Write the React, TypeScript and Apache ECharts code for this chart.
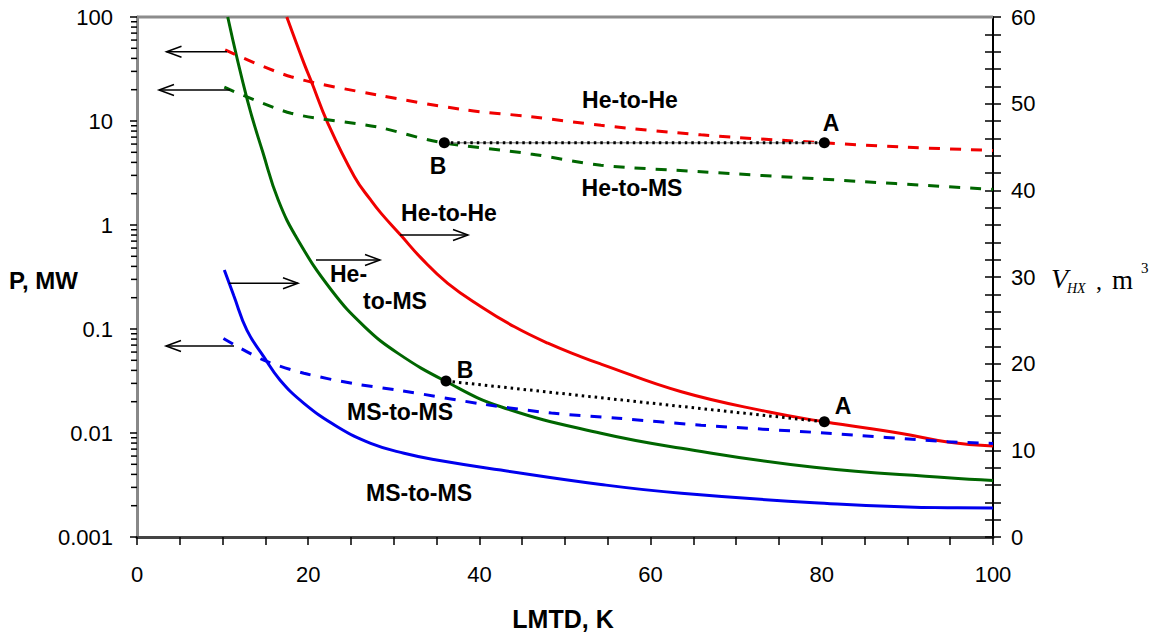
import React, { useEffect, useRef } from 'react';
import * as echarts from 'echarts';

// ---- Data ----
// Solid curves: power P (MW), left log axis
const lmtdHeHeP = [17.5, 19.5, 20.3, 22.3, 25.4, 27.3, 28.5, 30.8, 33.2, 36.3, 40.2, 44.1, 48, 51.9, 54.2, 63.6, 73.7, 80.3, 89.3, 94.7, 100];
const pHeHe = [100, 36, 24.8, 9.5, 2.91, 1.74, 1.3, 0.8, 0.48, 0.275, 0.164, 0.105, 0.073, 0.054, 0.046, 0.0249, 0.016, 0.0128, 0.0099, 0.0082, 0.0075];

const lmtdHeMSP = [10.6, 12.9, 14.7, 16.5, 18.8, 22.7, 26.6, 30.5, 36, 42.5, 54.2, 63.6, 79.1, 94.7, 100];
const pHeMS = [100, 15.8, 5.0, 1.74, 0.718, 0.237, 0.105, 0.0583, 0.0316, 0.0179, 0.00993, 0.00713, 0.00468, 0.00372, 0.0035];

const lmtdMSMSP = [10.2, 11.3, 12.85, 14.8, 16.7, 19.5, 23.4, 27.3, 31.2, 35, 42.5, 54.2, 63.6, 79.1, 94.7, 100];
const pMSMS = [0.369, 0.21, 0.097, 0.0542, 0.0324, 0.0193, 0.0115, 0.00796, 0.00638, 0.0055, 0.0044, 0.0032, 0.00263, 0.00214, 0.00191, 0.0019];

// Dashed curves: volume V_HX (m3), right axis
const lmtdHeHeV = [10.3, 18, 28.1, 38.2, 46, 54.2, 65.9, 79.9, 89.3, 100];
const vHeHe = [56.2, 53.1, 51.0, 49.3, 48.5, 47.5, 46.4, 45.5, 45.0, 44.6];

const lmtdHeMSV = [10.2, 18, 28.1, 35.1, 46, 54.2, 65.9, 79.9, 100];
const vHeMS = [51.9, 48.9, 47.3, 45.6, 44.2, 42.9, 42.15, 41.3, 40.1];

const lmtdMSMSV = [10.1, 14.8, 19.5, 25.3, 30.8, 40.6, 48.4, 56.2, 65.9, 80.3, 94.7, 100];
const vMSMS = [22.9, 20.4, 18.9, 17.7, 16.9, 15.3, 14.3, 13.7, 12.9, 12.0, 11.0, 10.8];

// Design points A and B
const pointsVLmtd = [35.9, 80.3];
const pointsV = [45.5, 45.5];
const pointsPLmtd = [36.1, 80.3];
const pointsP = [0.0316, 0.0128];

const xTicks = [0, 20, 40, 60, 80, 100];
const leftDecades = [0.001, 0.01, 0.1, 1, 10, 100];

const zip = (xs: number[], ys: number[]) => xs.map((x, i) => [x, ys[i]]);

const RED = '#f00000';
const GREEN = '#006600';
const BLUE = '#0000ee';
const FONT = '"Liberation Sans", Arial, Helvetica, sans-serif';
const SERIF = '"Liberation Serif", "Times New Roman", serif';

export default function App() {
  const ref = useRef<HTMLDivElement>(null);

  useEffect(() => {
    if (!ref.current) return;
    const chart = echarts.init(ref.current, null, { renderer: 'svg' });

    const solid = (name: string, data: number[][], color: string) => ({
      name,
      type: 'line',
      yAxisIndex: 0,
      data,
      showSymbol: false,
      symbol: 'none',
      smooth: 0.45,
      lineStyle: { color, width: 3 },
      z: 3,
    });
    const dashed = (name: string, data: number[][], color: string) => ({
      name,
      type: 'line',
      yAxisIndex: 1,
      data,
      showSymbol: false,
      symbol: 'none',
      smooth: 0.3,
      lineStyle: { color, width: 3, type: [11, 10] },
      z: 3,
    });
    const connector = (data: number[][], yAxisIndex: number) => ({
      type: 'line',
      yAxisIndex,
      data,
      symbol: 'circle',
      symbolSize: 11,
      showSymbol: true,
      itemStyle: { color: '#000' },
      lineStyle: { color: '#000', width: 3, type: [2.5, 4] },
      z: 5,
    });

    const rightAxisBase = {
      type: 'value',
      min: 0,
      max: 60,
      interval: 10,
      position: 'right',
      splitLine: { show: false },
    };

    chart.setOption({
      animation: false,
      backgroundColor: '#fff',
      grid: { left: 137, right: 167, top: 17, bottom: 99, containLabel: false },
      xAxis: {
        type: 'value',
        min: xTicks[0],
        max: xTicks[xTicks.length - 1],
        interval: 20,
        axisLine: { lineStyle: { color: '#444', width: 3 } },
        axisTick: { show: true, length: 8, lineStyle: { color: '#000', width: 1.5 } },
        minorTick: { show: true, splitNumber: 4, length: 8, lineStyle: { color: '#000', width: 1.5 } },
        splitLine: { show: false },
        axisLabel: { fontSize: 22, color: '#000', fontFamily: FONT, margin: 26 },
      },
      yAxis: [
        {
          type: 'log',
          logBase: 10,
          min: leftDecades[0],
          max: leftDecades[leftDecades.length - 1],
          position: 'left',
          axisLine: { show: true, lineStyle: { color: '#888', width: 3 } },
          axisTick: { show: true, length: 7, lineStyle: { color: '#000', width: 1.5 } },
          splitLine: { show: false },
          axisLabel: {
            fontSize: 22,
            color: '#000',
            fontFamily: FONT,
            margin: 24,
            formatter: (v: number) => String(Number(v.toPrecision(2))),
          },
        },
        {
          ...rightAxisBase,
          axisLine: { show: true, lineStyle: { color: '#000', width: 2 } },
          axisTick: { show: true, length: 8, lineStyle: { color: '#000', width: 1.5 } },
          minorTick: { show: true, splitNumber: 5, length: 8, lineStyle: { color: '#000', width: 1.5 } },
          axisLabel: { fontSize: 22, color: '#000', fontFamily: FONT, margin: 18 },
        },
        {
          ...rightAxisBase,
          axisLine: { show: false },
          axisTick: { show: true, inside: true, length: 8, lineStyle: { color: '#000', width: 1.5 } },
          minorTick: { show: true, splitNumber: 5, length: 8, lineStyle: { color: '#000', width: 1.5 } },
          axisLabel: { show: false },
        },
      ],
      series: [
        solid('He-to-He P', zip(lmtdHeHeP, pHeHe), RED),
        solid('He-to-MS P', zip(lmtdHeMSP, pHeMS), GREEN),
        solid('MS-to-MS P', zip(lmtdMSMSP, pMSMS), BLUE),
        dashed('He-to-He V', zip(lmtdHeHeV, vHeHe), RED),
        dashed('He-to-MS V', zip(lmtdHeMSV, vHeMS), GREEN),
        dashed('MS-to-MS V', zip(lmtdMSMSV, vMSMS), BLUE),
        {
          type: 'line',
          yAxisIndex: 1,
          data: zip(pointsVLmtd, pointsV),
          symbol: 'none',
          lineStyle: { color: '#9a9a9a', width: 1.5 },
          z: 4,
        },
        connector(zip(pointsVLmtd, pointsV), 1),
        connector(zip(pointsPLmtd, pointsP), 0),
      ],
    });

    // ---- annotations ----
    const gx0 = 137, gx1 = 993, gy0 = 17;
    const els: any[] = [];
    // top border
    els.push({ type: 'line', shape: { x1: gx0, y1: gy0, x2: gx1, y2: gy0 }, style: { stroke: '#8c8c8c', lineWidth: 3 }, z: 1 });
    // log minor ticks on left axis
    for (let k = 0; k < leftDecades.length - 1; k++) {
      for (let m = 2; m <= 9; m++) {
        const v = leftDecades[k] * m;
        const py = chart.convertToPixel({ yAxisIndex: 0 }, v) as number;
        els.push({ type: 'line', shape: { x1: gx0 - 6, y1: py, x2: gx0, y2: py }, style: { stroke: '#000', lineWidth: 1.5 }, z: 1 });
      }
    }
    const arrow = (x1: number, y: number, x2: number) => {
      const dir = x2 > x1 ? 1 : -1;
      els.push({ type: 'line', shape: { x1, y1: y, x2, y2: y }, style: { stroke: '#000', lineWidth: 1.5 }, z: 6 });
      els.push({
        type: 'polyline',
        shape: { points: [[x2 - dir * 15, y - 5.5], [x2, y], [x2 - dir * 15, y + 5.5]] },
        style: { stroke: '#000', lineWidth: 1.5, fill: 'none' },
        z: 6,
      });
    };
    arrow(227, 51.7, 166.5);
    arrow(230, 90, 159);
    arrow(400, 235, 468);
    arrow(316, 260, 380);
    arrow(229, 283.3, 298);
    arrow(234, 346, 166);

    const label = (text: string, x: number, y: number, size = 23, align = 'center') => {
      els.push({
        type: 'text',
        x,
        y,
        style: { text, fill: '#000', fontSize: size, fontWeight: 'bold', fontFamily: FONT, align, verticalAlign: 'middle' },
        z: 7,
      });
    };
    label('He-to-He', 630, 100);
    label('He-to-MS', 632, 188);
    label('A', 831, 123);
    label('B', 438, 166);
    label('He-to-He', 449, 213);
    label('He-', 330, 274, 23, 'left');
    label('to-MS', 395, 301);
    label('B', 465, 370);
    label('A', 843, 406);
    label('MS-to-MS', 400, 412);
    label('MS-to-MS', 419, 493);
    // axis titles
    label('P, MW', 9, 280, 24, 'left');
    label('LMTD, K', 563, 619, 25, 'center');
    const serif = (text: string, x: number, y: number, size: number, italic: boolean) => {
      els.push({
        type: 'text',
        x,
        y,
        style: { text, fill: '#000', fontSize: size, fontStyle: italic ? 'italic' : 'normal', fontFamily: SERIF, align: 'left', verticalAlign: 'middle' },
        z: 7,
      });
    };
    serif('V', 1051, 278, 28, true);
    serif('HX', 1067, 288, 14, true);
    serif(',', 1096, 281, 24, false);
    serif('m', 1112, 280, 27, false);
    serif('3', 1141, 268, 15, false);

    chart.setOption({ graphic: { elements: els } });

    return () => chart.dispose();
  }, []);

  return <div ref={ref} style={{ position: 'absolute', left: 0, top: 0, width: 1160, height: 636, background: '#fff' }} />;
}
